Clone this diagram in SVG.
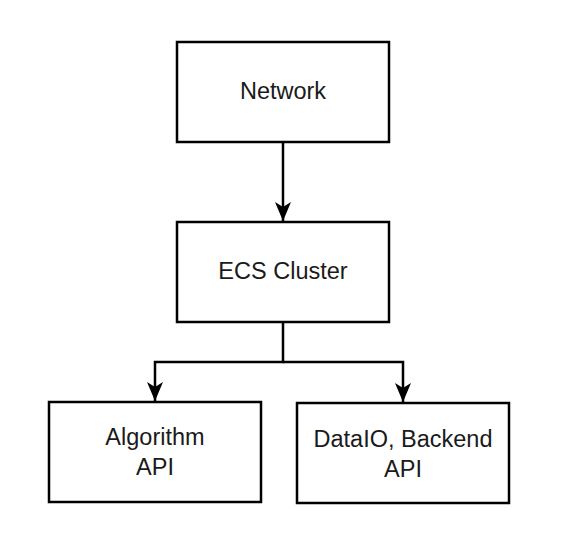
<svg xmlns="http://www.w3.org/2000/svg" width="563" height="533" viewBox="0 0 563 533">
<defs>
<style>
.box{fill:#ffffff;stroke:#000000;stroke-width:2.5}
.lbl{font-family:"Liberation Sans",Arial,sans-serif;font-size:23.5px;fill:#1a1a1a;text-anchor:middle}
.edge{fill:none;stroke:#000000;stroke-width:2.5}
</style>
<marker id="arrow" markerUnits="userSpaceOnUse" viewBox="0 -8 19 16" refX="19" refY="0" markerWidth="19" markerHeight="16" orient="auto">
<path d="M0,-8 L19,0 L0,8 L5,0 Z" fill="#000000"/>
</marker>
</defs>
<rect width="563" height="533" fill="#ffffff"/>
<g id="connectors">
<path class="edge" d="M283,142 L283,221" marker-end="url(#arrow)"/>
<path class="edge" d="M283,322 L283,362 L155,362 L155,401" marker-end="url(#arrow)"/>
<path class="edge" d="M283,362 L403,362 L403,402" marker-end="url(#arrow)"/>
</g>
<g id="network">
<rect class="box" x="177" y="42" width="212" height="100"/>
<text class="lbl" x="283" y="99">Network</text>
</g>
<g id="ecs-cluster">
<rect class="box" x="177" y="222" width="212" height="100"/>
<text class="lbl" x="283" y="279">ECS Cluster</text>
</g>
<g id="algorithm-api">
<rect class="box" x="49" y="402" width="212" height="100"/>
<text class="lbl" x="155" y="445">Algorithm</text>
<text class="lbl" x="155" y="475">API</text>
</g>
<g id="dataio-backend-api">
<rect class="box" x="297" y="403" width="212" height="100"/>
<text class="lbl" x="403" y="446.5">DataIO, Backend</text>
<text class="lbl" x="403" y="476.5">API</text>
</g>
</svg>
